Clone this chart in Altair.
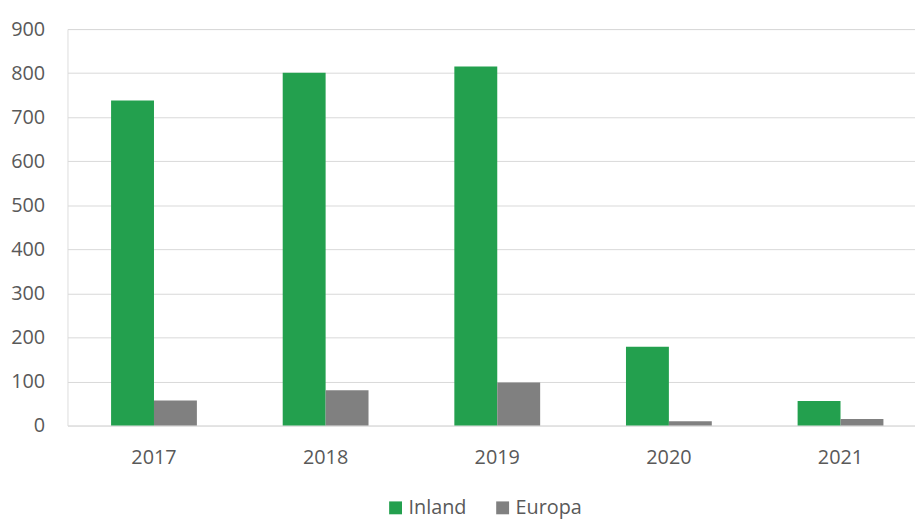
import altair as alt
import pandas as pd

years = ["2017", "2018", "2019", "2020", "2021"]
inland = [738, 801, 815, 179, 56]
europa = [57, 80, 98, 10, 15]
series = ["Inland", "Europa"]
colors = ["#23A04E", "#808080"]

rows = []
for i, y in enumerate(years):
    rows.append({"year": y, "series": "Inland", "value": inland[i]})
    rows.append({"year": y, "series": "Europa", "value": europa[i]})
df = pd.DataFrame(rows)

FONT = "Open Sans"
TXT = "#595959"

chart = (
    alt.Chart(df)
    .mark_bar()
    .encode(
        x=alt.X(
            "year:N",
            sort=years,
            title=None,
            scale=alt.Scale(paddingInner=0.5, paddingOuter=0.219, align=0.58),
            axis=alt.Axis(
                labelAngle=0,
                ticks=False,
                domain=False,
                grid=False,
                labelFont=FONT,
                labelFontSize=20,
                labelColor=TXT,
                labelPadding=22,
            ),
        ),
        xOffset=alt.XOffset("series:N", sort=series),
        y=alt.Y(
            "value:Q",
            title=None,
            scale=alt.Scale(domain=[0, 900], nice=False),
            axis=alt.Axis(
                values=[0, 100, 200, 300, 400, 500, 600, 700, 800, 900],
                ticks=False,
                domain=False,
                grid=True,
                gridColor="#D9D9D9",
                gridWidth=1,
                labelFont=FONT,
                labelFontSize=20,
                labelColor=TXT,
                labelPadding=23,
            ),
        ),
        color=alt.Color(
            "series:N",
            sort=series,
            scale=alt.Scale(domain=series, range=colors),
            legend=alt.Legend(
                title=None,
                orient="none",
                legendX=321,
                legendY=473,
                direction="horizontal",
                symbolType="square",
                symbolSize=169,
                symbolStrokeWidth=0,
                labelFont=FONT,
                labelFontSize=20,
                labelColor=TXT,
                labelOffset=3,
                columnPadding=26,
                padding=0,
            ),
        ),
    )
    .properties(
        width=855,
        height=400,
        autosize=alt.AutoSizeParams(type="none"),
        padding={"left": 60, "top": 19, "right": 0, "bottom": 94},
    )
    .configure_view(stroke=None)
    .configure(background="white")
)

chart.save("out.html", embed_options={"renderer": "svg", "actions": False})
